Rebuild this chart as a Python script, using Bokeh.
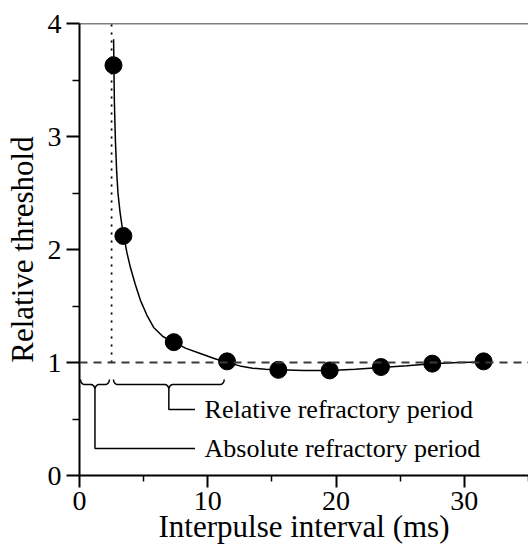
import numpy as np
from bokeh.plotting import figure
from bokeh.models import Span, Range1d, FixedTicker
from bokeh.embed import file_html
from bokeh.resources import INLINE
from bokeh.core.properties import value

# Threshold measurements (interpulse interval in ms, threshold relative to baseline)
interval_ms = [2.65, 3.42, 7.35, 11.5, 15.5, 19.5, 23.5, 27.5, 31.5]
rel_threshold = [3.63, 2.12, 1.18, 1.01, 0.935, 0.93, 0.96, 0.99, 1.01]

# Recovery curve fitted through the measurements
fit_x = [2.66, 2.68, 2.72, 2.80, 2.90, 3.00, 3.15, 3.30, 3.45, 3.70, 3.97, 4.35,
         4.75, 5.25, 5.78, 6.50, 7.34, 8.30, 9.42, 10.50, 11.50, 12.50, 13.50,
         14.50, 15.50, 17.50, 19.50, 21.50, 23.50, 25.50, 27.50, 29.50, 31.50]
fit_y = [3.86, 3.63, 3.30, 2.96, 2.68, 2.50, 2.34, 2.22, 2.12, 1.97, 1.84, 1.69,
         1.55, 1.42, 1.31, 1.23, 1.18, 1.125, 1.08, 1.035, 1.00, 0.97, 0.95,
         0.94, 0.935, 0.93, 0.93, 0.94, 0.955, 0.972, 0.99, 1.00, 1.005]

# Reference levels
baseline_threshold = 1.0
absolute_limit_ms = 2.5

# Refractory periods marked with braces below the baseline
period_spans = [(0.08, 2.33), (2.65, 11.28)]
period_labels = ["Absolute refractory period", "Relative refractory period"]
period_label_y = [0.24, 0.585]

x_ticks = [0, 10, 20, 30]
x_minor = [5, 15, 25, 35]
y_ticks = [0, 1, 2, 3, 4]
y_minor = [0.5, 1.5, 2.5, 3.5]

x_title = "Interpulse interval (ms)"
y_title = "Relative threshold"

FONT = "Liberation Serif"

p = figure(width=528, height=552, output_backend="svg", toolbar_location=None,
           x_range=Range1d(0, 35), y_range=Range1d(0, 4),
           min_border_left=79, min_border_right=0, min_border_top=23,
           min_border_bottom=77)
p.outline_line_color = None
p.xgrid.visible = False
p.ygrid.visible = False
p.background_fill_color = "white"
p.border_fill_color = "white"

for ax in (p.xaxis[0], p.yaxis[0]):
    ax.axis_line_width = 2
    ax.axis_line_color = "black"
    ax.major_tick_line_width = 2
    ax.minor_tick_line_width = 1.5
    ax.major_tick_line_color = "black"
    ax.minor_tick_line_color = "black"
    ax.major_tick_in = 0
    ax.minor_tick_in = 0
    ax.major_label_text_font = FONT
    ax.major_label_text_font_size = "28px"
    ax.major_label_text_color = "black"
    ax.axis_label_text_font = FONT
    ax.axis_label_text_font_size = "31px"
    ax.axis_label_text_font_style = "normal"
    ax.axis_label_text_color = "black"

p.xaxis.ticker = FixedTicker(ticks=x_ticks, minor_ticks=x_minor)
p.yaxis.ticker = FixedTicker(ticks=y_ticks, minor_ticks=y_minor)
p.xaxis.major_tick_out = 12
p.xaxis.minor_tick_out = 6
p.yaxis.major_tick_out = 13
p.yaxis.minor_tick_out = 7
p.xaxis.major_label_standoff = 4
p.yaxis.major_label_standoff = 5
p.xaxis.axis_label = x_title
p.yaxis.axis_label = y_title
p.xaxis.axis_label_standoff = -4
p.yaxis.axis_label_standoff = 5

# Frame top edge
p.add_layout(Span(location=4, dimension="width", line_color="black", line_width=1.5))

# Baseline threshold (dashed) and end of the absolute refractory period (dotted)
p.add_layout(Span(location=baseline_threshold, dimension="width",
                  line_color="#3a3a3a", line_width=2, line_dash="8 6"))
p.segment(x0=[absolute_limit_ms], y0=[baseline_threshold],
          x1=[absolute_limit_ms], y1=[4], line_color="black",
          line_width=1.8, line_dash="2 6")

# Fitted curve and measurements
p.line(fit_x, fit_y, line_color="black", line_width=1.5)
p.scatter(interval_ms, rel_threshold, size=17, fill_color="black",
          line_color="black", marker="circle")


def brace(x0, x1, ytop, h, r):
    """Downward-pointing curly brace between x0 and x1."""
    xm = 0.5 * (x0 + x1)
    t = np.linspace(0, np.pi / 2, 12)
    a1x = x0 + r * (1 - np.cos(t))
    a1y = ytop - h * np.sin(t)
    a2x = xm - r + r * np.sin(t)
    a2y = ytop - h - h * (1 - np.cos(t))
    left_x = np.concatenate([a1x, a2x])
    left_y = np.concatenate([a1y, a2y])
    right_x = (2 * xm - left_x)[::-1]
    right_y = left_y[::-1]
    return (list(np.concatenate([left_x, right_x])),
            list(np.concatenate([left_y, right_y])), xm, ytop - 2 * h)


brace_top = 0.85
brace_h = 0.045
brace_r = 0.32
leader_end_x = 9.0
label_x = 9.75

bx, by, lx, ly = [], [], [], []
for (x0, x1), yl in zip(period_spans, period_label_y):
    xs, ys, xm, ytip = brace(x0, x1, brace_top, brace_h, brace_r)
    bx.append(xs)
    by.append(ys)
    lx.append([xm, xm, leader_end_x])
    ly.append([ytip, yl, yl])

p.multi_line(bx, by, line_color="black", line_width=1.5)
p.multi_line(lx, ly, line_color="black", line_width=1.5)
p.text(x=[label_x] * len(period_labels), y=period_label_y, text=period_labels,
       text_font=value(FONT), text_font_size="26px", text_color="black",
       text_align="left", text_baseline="middle")

open("out.html", "w").write(file_html(p, INLINE))
